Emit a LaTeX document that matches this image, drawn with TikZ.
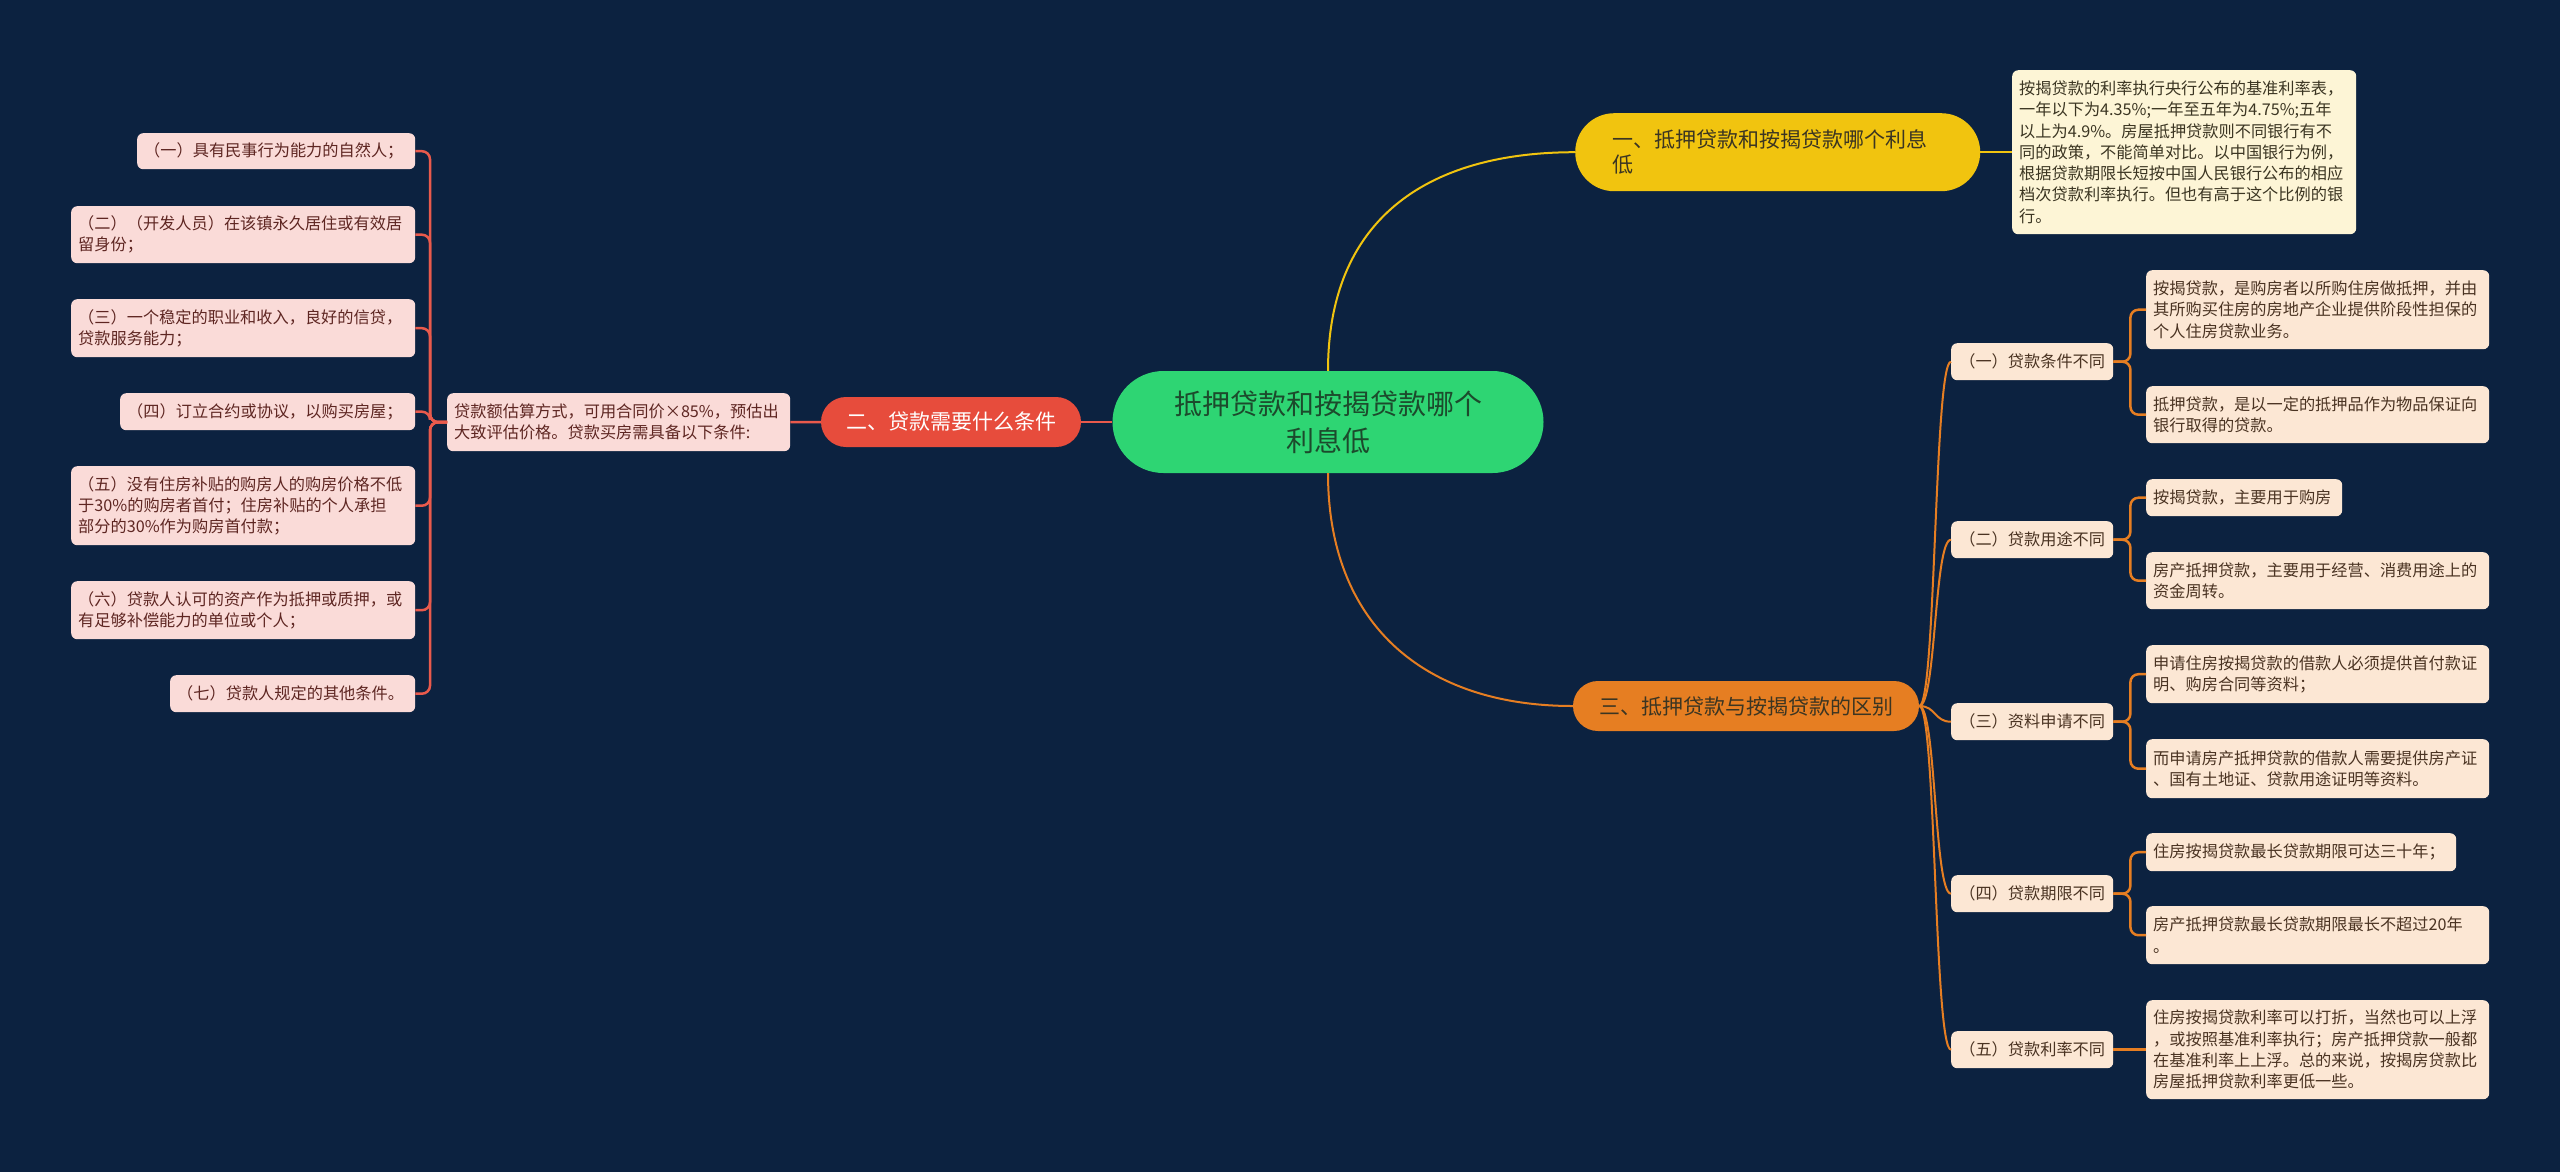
\documentclass[tikz,border=0pt]{standalone}
\usepackage{fontspec}
\setmainfont{Noto Sans CJK SC}
\usepackage{tikz}
\usetikzlibrary{positioning}
\definecolor{MapBg}{HTML}{0C2240}
\definecolor{RootGreen}{HTML}{2ED573}
\definecolor{RootInk}{HTML}{1C4A2C}
\definecolor{BrYellow}{HTML}{F1C40F}
\definecolor{BrRed}{HTML}{E74C3C}
\definecolor{BrOrange}{HTML}{E67E22}
\definecolor{NoteCream}{HTML}{FDF5D6}
\definecolor{LeafPink}{HTML}{FADBD8}
\definecolor{LeafPeach}{HTML}{FCE7D4}
\definecolor{InkDark}{HTML}{3B3522}
\definecolor{InkRed}{HTML}{5E2622}
\definecolor{InkBrown}{HTML}{4A3322}

\tikzset{
  leafbox/.style 2 args={anchor=north west, rounded corners=6pt, inner xsep=7pt, inner ysep=0pt,
    text width=#1pt, minimum height=#2pt, align=left, font=\fontsize{16.2}{21.3}\selectfont},
  redleaf/.style 2 args={leafbox={#1}{#2}, fill=LeafPink, text=InkRed},
  peachleaf/.style 2 args={leafbox={#1}{#2}, fill=LeafPeach, text=InkBrown},
  subbox/.style={anchor=north west, rounded corners=6pt, inner sep=0pt, minimum width=162pt,
    minimum height=37pt, fill=LeafPeach, text=InkBrown, font=\fontsize{16.2}{20}\selectfont},
  pill/.style={inner sep=0pt, font=\fontsize{21}{25}\selectfont},
  yline/.style={draw=BrYellow, line width=2pt},
  rline/.style={draw=BrRed!92!white, line width=2.5pt},
  oline/.style={draw=BrOrange, line width=2.5pt}
}

\begin{document}
\begin{tikzpicture}[x=1pt,y=-1pt]
\useasboundingbox (0,0) rectangle (2560,1171);
\fill[MapBg] (-4,-4) rectangle (2564,1175);

% centre and main branches
\node[fill=RootGreen, text=RootInk, rounded corners=51pt, minimum width=431pt, minimum height=102pt,
  inner sep=0pt, align=center, font=\fontsize{28}{37}\selectfont] (root) at (1328,422)
  {抵押贷款和按揭贷款哪个\\利息低};
\node[pill, anchor=north west, fill=BrYellow, text=InkDark, rounded corners=39pt, inner xsep=37pt,
  text width=331pt, minimum height=78pt, align=left] (br1) at (1575,113)
  {一、抵押贷款和按揭贷款哪个利息\\低};
\node[pill, fill=BrRed, text=white, rounded corners=25pt, minimum width=260pt, minimum height=50pt]
  (br2) at (951,422) {二、贷款需要什么条件};
\node[pill, fill=BrOrange, text=InkDark, rounded corners=25pt, minimum width=346pt, minimum height=50pt]
  (br3) at (1746,706) {三、抵押贷款与按揭贷款的区别};

% branch one
\node[leafbox={330}{164}, fill=NoteCream, text=InkDark] (note1) at (2012,70)
  {按揭贷款的利率执行央行公布的基准利率表，\\一年以下为4.35\%;一年至五年为4.75\%;五年\\以上为4.9\%。房屋抵押贷款则不同银行有不\\同的政策，不能简单对比。以中国银行为例，\\根据贷款期限长短按中国人民银行公布的相应\\档次贷款利率执行。但也有高于这个比例的银\\行。};

% branch two
\node[redleaf={329}{58}] (note2) at (447,393)
  {贷款额估算方式，可用合同价×85\%，预估出\\大致评估价格。贷款买房需具备以下条件:};
\node[redleaf={264}{36}] (l1) at (137,133) {（一）具有民事行为能力的自然人；};
\node[redleaf={330}{57}] (l2) at (71,206) {（二）（开发人员）在该镇永久居住或有效居\\留身份；};
\node[redleaf={330}{58}] (l3) at (71,299) {（三）一个稳定的职业和收入，良好的信贷，\\贷款服务能力；};
\node[redleaf={281}{37}] (l4) at (120,393) {（四）订立合约或协议，以购买房屋；};
\node[redleaf={330}{79}] (l5) at (71,466) {（五）没有住房补贴的购房人的购房价格不低\\于30\%的购房者首付；住房补贴的个人承担\\部分的30\%作为购房首付款；};
\node[redleaf={330}{58}] (l6) at (71,581) {（六）贷款人认可的资产作为抵押或质押，或\\有足够补偿能力的单位或个人；};
\node[redleaf={231}{37}] (l7) at (170,675) {（七）贷款人规定的其他条件。};

% branch three
\node[subbox] (s1) at (1951,343) {（一）贷款条件不同};
\node[subbox] (s2) at (1951,521) {（二）贷款用途不同};
\node[subbox] (s3) at (1951,703) {（三）资料申请不同};
\node[subbox] (s4) at (1951,875) {（四）贷款期限不同};
\node[subbox] (s5) at (1951,1031) {（五）贷款利率不同};

\node[peachleaf={329}{79}] (c1a) at (2146,270) {按揭贷款，是购房者以所购住房做抵押，并由\\其所购买住房的房地产企业提供阶段性担保的\\个人住房贷款业务。};
\node[peachleaf={329}{57}] (c1b) at (2146,386) {抵押贷款，是以一定的抵押品作为物品保证向\\银行取得的贷款。};
\node[peachleaf={182}{37}] (c2a) at (2146,479) {按揭贷款，主要用于购房};
\node[peachleaf={329}{57}] (c2b) at (2146,552) {房产抵押贷款，主要用于经营、消费用途上的\\资金周转。};
\node[peachleaf={329}{58}] (c3a) at (2146,645) {申请住房按揭贷款的借款人必须提供首付款证\\明、购房合同等资料；};
\node[peachleaf={329}{59}] (c3b) at (2146,739) {而申请房产抵押贷款的借款人需要提供房产证\\、国有土地证、贷款用途证明等资料。};
\node[peachleaf={296}{38}] (c4a) at (2146,833) {住房按揭贷款最长贷款期限可达三十年；};
\node[peachleaf={329}{58}] (c4b) at (2146,906) {房产抵押贷款最长贷款期限最长不超过20年\\。};
\node[peachleaf={329}{99}] (c5a) at (2146,1000) {住房按揭贷款利率可以打折，当然也可以上浮\\，或按照基准利率执行；房产抵押贷款一般都\\在基准利率上上浮。总的来说，按揭房贷款比\\房屋抵押贷款利率更低一些。};

% connectors
\draw[yline] (root.north) .. controls +(0,-150) and +(-150,0) .. (br1.west);
\draw[oline, line width=2pt] (root.south) .. controls +(0,150) and +(-150,0) .. (br3.west);
\draw[rline] (root.west) -- (br2.east);
\draw[yline] (br1.east) -- (note1.west);
\draw[rline] (br2.west) -- (note2.east);
\foreach \leaf in {l1,l2,l3,l4,l5,l6,l7}
  \draw[rline, rounded corners=8pt] (note2.west) -- ++(-17,0) |- (\leaf.east);
\foreach \sub in {s1,s2,s3,s4,s5}
  \draw[oline, line width=2pt] (br3.east) .. controls +(17,0) and +(-17,0) .. (\sub.west);
\foreach \sub/\kid in {s1/c1a,s1/c1b,s2/c2a,s2/c2b,s3/c3a,s3/c3b,s4/c4a,s4/c4b}
  \draw[oline, rounded corners=8pt] (\sub.east) -- ++(17,0) |- (\kid.west);
\draw[oline] (s5.east) -- (c5a.west);
\end{tikzpicture}
\end{document}
